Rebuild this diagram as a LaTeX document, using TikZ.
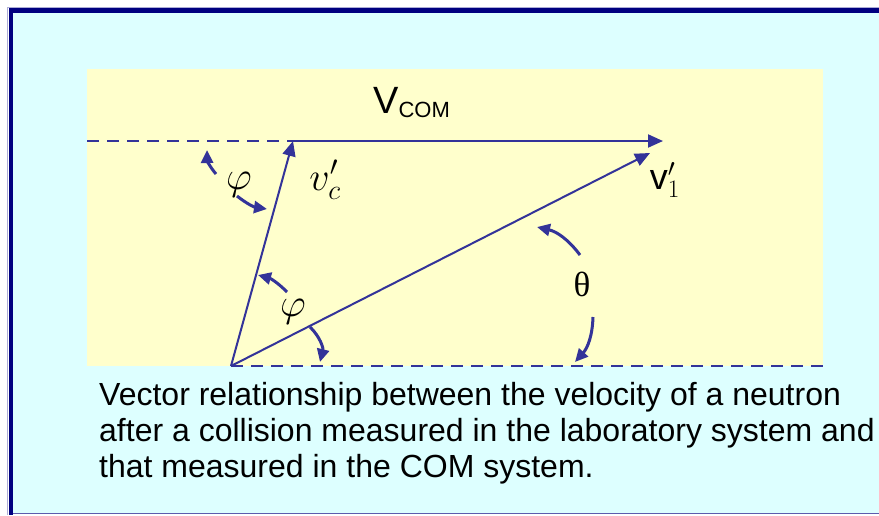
\documentclass[tikz,border=0pt]{standalone}
\usepackage{fix-cm}
\usepackage{fontspec}
\setmainfont{Liberation Sans}
\newfontfamily\serifgreek{Liberation Serif}
\usetikzlibrary{arrows.meta}
\definecolor{frameblue}{HTML}{000080}
\definecolor{vecblue}{HTML}{333399}
\definecolor{panelcyan}{HTML}{DDFFFF}
\definecolor{plotyellow}{HTML}{FFFFCC}

\begin{document}
\begin{tikzpicture}[x=1pt,y=-1pt,
  vec/.style={vecblue,line width=2pt,-{Triangle[length=15pt,width=13pt]}},
  guide/.style={vecblue,line width=2pt,dash pattern=on 12pt off 8pt},
  turn/.style={vecblue,line width=3pt,-{Triangle[length=13pt,width=12pt]}},
  sym/.style={inner sep=0pt,font=\fontsize{40}{44}\selectfont}]
\useasboundingbox (0,0) rectangle (879,515);
\fill[white] (0,0) rectangle (879,515);
\fill[panelcyan] (13,13) rectangle (879,513);
\draw[vecblue!40,line width=0.8pt] (7.5,515) -- (7.5,7.5) -- (879,7.5);
\fill[frameblue] (9,8) rectangle (13,515);
\fill[frameblue] (9,8) rectangle (879,13);
\draw[vecblue!80,line width=1pt] (13,513.5) -- (879,513.5);
\fill[plotyellow] (87,69) rectangle (823,366);

\coordinate (O) at (231,366);
\coordinate (C) at (293,141);
\coordinate (L) at (87,141);
\coordinate (R) at (823,366);
\coordinate (V) at (663,141);
\coordinate (W) at (650,153);

\draw[guide] (L) -- (C);
\draw[guide] (O) -- (R);
\draw[vec] (C) -- (V);
\draw[vec] (O) -- (C);
\draw[vec] (O) -- (W);

\node[anchor=base west,inner sep=0pt,font=\fontsize{38}{42}\selectfont] (vcom) at (373,113)
  {V\raisebox{-4pt}{\fontsize{22}{26}\selectfont COM}};
\node[sym] (vc) at (325,180) {$v'_c$};
\node[sym,font=\fontsize{36}{40}\selectfont] (v1) at (665,180) {$\mathrm{v}'_1$};
\node[sym] (phitop) at (239,185) {$\varphi$};
\node[sym] (phibot) at (293,312) {$\varphi$};
\node[sym,font=\serifgreek\fontsize{35}{38}\selectfont] (theta) at (582,284) {θ};

\draw[turn] (216,174) to[bend left=20] (207,150);
\draw[turn] (237,196) to[bend right=15] (267,209);
\draw[turn] (287,292) to[bend right=15] (258,275);
\draw[turn] (310,327) to[bend left=30] (320,362);
\draw[turn] (580,255) to[bend right=20] (537,227);
\draw[turn] (593,317) to[bend left=20] (575,362);

\node[anchor=north west,inner sep=0pt,align=left,font=\fontsize{32}{36}\selectfont] (caption) at (99,382)
  {Vector relationship between the velocity of a neutron\\
   after a collision measured in the laboratory system and\\
   that measured in the COM system.};
\end{tikzpicture}
\end{document}
